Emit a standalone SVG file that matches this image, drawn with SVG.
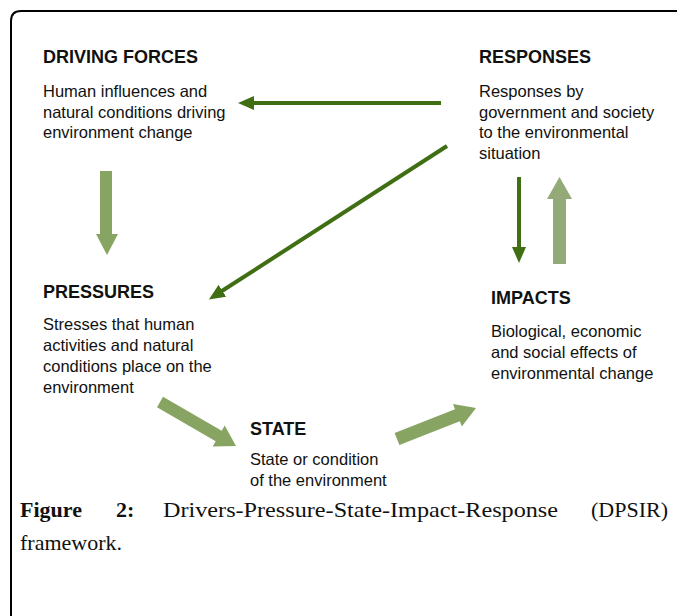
<svg xmlns="http://www.w3.org/2000/svg" width="677" height="616" viewBox="0 0 677 616">
<style>
.t{font-family:"Liberation Sans",Arial,sans-serif;font-size:18px;font-weight:bold;fill:#111}
.b{font-family:"Liberation Sans",Arial,sans-serif;font-size:16.5px;fill:#111}
.cap{font-family:"Liberation Serif","Times New Roman",serif;font-size:22px;fill:#111}
.capb{font-family:"Liberation Serif","Times New Roman",serif;font-size:22px;font-weight:bold;fill:#111}
.dk{stroke:#3f6e13;stroke-width:4;fill:none}
.lt{fill:#87a463}
.lt2{fill:#93aa78}
</style>
<defs>
<marker id="ah" markerUnits="userSpaceOnUse" markerWidth="17" markerHeight="14" refX="1" refY="7" orient="auto">
<path d="M0,0 L16,7 L0,14 z" fill="#3f6e13"/>
</marker>
</defs>
<rect width="677" height="616" fill="#fff"/>
<path d="M11 616 L11 21 Q11 11 21 11 L677 11" stroke="#000" stroke-width="2" fill="none"/>

<g id="connectors">
<line class="dk" x1="441" y1="103" x2="253" y2="103" marker-end="url(#ah)"/>
<line class="dk" x1="447" y1="146" x2="221.5" y2="291.3" marker-end="url(#ah)"/>
<line class="dk" x1="519" y1="177" x2="519" y2="248" marker-end="url(#ah)"/>
<polygon class="lt" points="100,171 112,171 112,234 118,234 107,255 96,234 100,234"/>
<polygon class="lt2" points="553,264 566,264 566,199 572,199 559.5,177 547,199 553,199"/>
<polygon class="lt" points="163,396.8 221.7,430.8 224.7,425.6 236,446 212.7,446.4 215.7,441.2 157,407.2"/>
<polygon class="lt" points="394.6,432.9 455,409.3 453,404.1 476,408 461.8,426.5 459.8,421.3 399.4,445"/>
</g>

<g id="driving">
<text class="t" x="43" y="63">DRIVING FORCES</text>
<text class="b" x="43" y="97">Human influences and</text>
<text class="b" x="43" y="117.5">natural conditions driving</text>
<text class="b" x="43" y="138">environment change</text>
</g>
<g id="responses">
<text class="t" x="479" y="63">RESPONSES</text>
<text class="b" x="479" y="97">Responses by</text>
<text class="b" x="479" y="117.5">government and society</text>
<text class="b" x="479" y="138">to the environmental</text>
<text class="b" x="479" y="158.5">situation</text>
</g>
<g id="pressures">
<text class="t" x="43" y="298">PRESSURES</text>
<text class="b" x="43" y="330">Stresses that human</text>
<text class="b" x="43" y="351">activities and natural</text>
<text class="b" x="43" y="372">conditions place on the</text>
<text class="b" x="43" y="393">environment</text>
</g>
<g id="impacts">
<text class="t" x="491" y="304">IMPACTS</text>
<text class="b" x="491" y="337">Biological, economic</text>
<text class="b" x="491" y="358">and social effects of</text>
<text class="b" x="491" y="379">environmental change</text>
</g>
<g id="state">
<text class="t" x="250" y="435">STATE</text>
<text class="b" x="250" y="465">State or condition</text>
<text class="b" x="250" y="486">of the environment</text>
</g>

<g id="caption">
<text class="capb" x="20" y="517">Figure</text>
<text class="capb" x="116" y="517">2:</text>
<text class="cap" x="163" y="517" textLength="395" lengthAdjust="spacingAndGlyphs">Drivers-Pressure-State-Impact-Response</text>
<text class="cap" x="668" y="517" text-anchor="end">(DPSIR)</text>
<text class="cap" x="20" y="550">framework.</text>
</g>
</svg>
